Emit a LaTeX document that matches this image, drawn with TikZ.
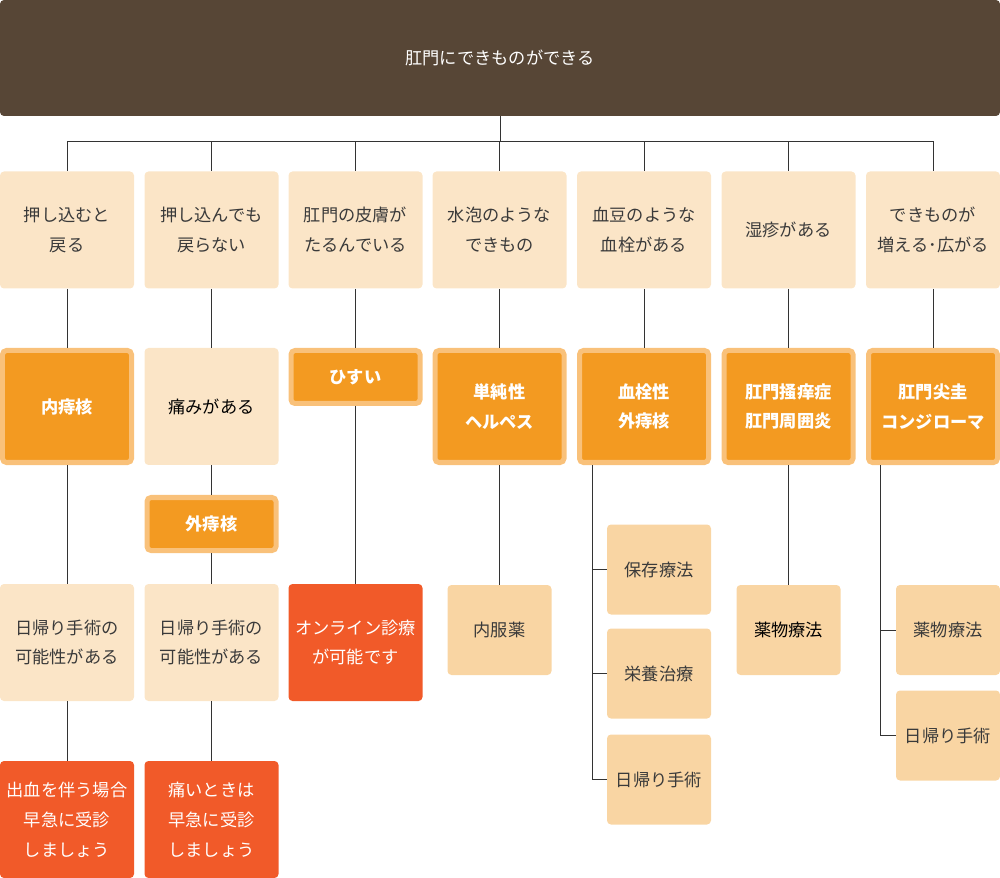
\documentclass[tikz,border=0pt]{standalone}
\usepackage{fontspec}
\setmainfont{Noto Sans CJK JP}
\usetikzlibrary{positioning}
\definecolor{topbrown}{HTML}{574636}
\definecolor{condfill}{HTML}{FBE5C7}
\definecolor{diagfill}{HTML}{F39A21}
\definecolor{diagedge}{HTML}{F9C17A}
\definecolor{alertfill}{HTML}{F15A29}
\definecolor{curefill}{HTML}{F9D5A3}
\definecolor{textgray}{HTML}{3A3A3A}
\definecolor{linegray}{HTML}{333333}

\begin{document}
\begin{tikzpicture}[
    node/.style={%
      rectangle,
      rounded corners=0.08cm,
      align=center,
      inner sep=0pt,
      font=\fontsize{9.8pt}{17pt}\selectfont,
    },
    cond/.style={node, fill=condfill, text=textgray,
      minimum width=2.68cm, minimum height=2.34cm},
    diag/.style={node, fill=diagfill, draw=diagedge, line width=0.1cm,
      text=white, font=\bfseries\fontsize{9.8pt}{17pt}\selectfont,
      minimum width=2.58cm, minimum height=2.24cm},
    alert/.style={node, fill=alertfill, text=white,
      minimum width=2.68cm, minimum height=2.34cm},
    cure/.style={node, fill=curefill, text=textgray,
      minimum width=2.08cm, minimum height=1.8cm},
    link/.style={draw=linegray, line width=0.02cm},
  ]
    \useasboundingbox (0,0) rectangle (20,-17.56);

    \node [node, fill=topbrown, text=white, minimum width=20cm, minimum height=2.32cm] (T) at (10,-1.16) {肛門にできものができる};
    \coordinate (bus) at (10,-2.84);

    \node [cond] (A1) at (1.34,-4.60) {押し込むと\\戻る};
    \node [cond] (B1) at (4.23,-4.60) {押し込んでも\\戻らない};
    \node [cond] (C1) at (7.11,-4.60) {肛門の皮膚が\\たるんでいる};
    \node [cond] (D1) at (9.99,-4.60) {水泡のような\\できもの};
    \node [cond] (E1) at (12.88,-4.60) {血豆のような\\血栓がある};
    \node [cond] (F1) at (15.77,-4.60) {湿疹がある};
    \node [cond] (G1) at (18.66,-4.60) {できものが\\増える･広がる};

    \node [diag] (A2) at (1.34,-8.13) {内痔核};
    \node [cond, text=black] (B2) at (4.23,-8.13) {痛みがある};
    \node [diag, minimum height=1.06cm] (C2) at (7.11,-7.54) {ひすい};
    \node [diag] (D2) at (9.99,-8.13) {単純性\\ヘルペス};
    \node [diag] (E2) at (12.88,-8.13) {血栓性\\外痔核};
    \node [diag] (F2) at (15.77,-8.13) {肛門掻痒症\\肛門周囲炎};
    \node [diag] (G2) at (18.66,-8.13) {肛門尖圭\\コンジローマ};
    \node [diag, minimum height=1.06cm] (B2x) at (4.23,-10.48) {外痔核};

    \node [cond] (A3) at (1.34,-12.85) {日帰り手術の\\可能性がある};
    \node [cond] (B3) at (4.23,-12.85) {日帰り手術の\\可能性がある};
    \node [alert] (C3) at (7.11,-12.85) {オンライン診療\\が可能です};
    \node [cure] (D3) at (9.99,-12.60) {内服薬};
    \node [cure] (E3a) at (13.18,-11.39) {保存療法};
    \node [cure] (E3b) at (13.18,-13.47) {栄養治療};
    \node [cure] (E3c) at (13.18,-15.59) {日帰り手術};
    \node [cure, text=black] (F3) at (15.77,-12.60) {薬物療法};
    \node [cure] (G3a) at (18.96,-12.60) {薬物療法};
    \node [cure] (G3b) at (18.96,-14.71) {日帰り手術};

    \node [alert] (A4) at (1.34,-16.39) {出血を伴う場合\\早急に受診\\しましょう};
    \node [alert] (B4) at (4.23,-16.39) {痛いときは\\早急に受診\\しましょう};

    % tree from the title
    \draw [link] (T) -- (bus);
    \draw [link] (bus) -| (A1);
    \draw [link] (bus) -| (B1);
    \draw [link] (bus) -| (C1);
    \draw [link] (bus) -| (D1);
    \draw [link] (bus) -| (E1);
    \draw [link] (bus) -| (F1);
    \draw [link] (bus) -| (G1);

    % columns
    \draw [link] (A1) -- (A2);
    \draw [link] (A2) -- (A3);
    \draw [link] (A3) -- (A4);
    \draw [link] (B1) -- (B2);
    \draw [link] (B2) -- (B2x);
    \draw [link] (B2x) -- (B3);
    \draw [link] (B3) -- (B4);
    \draw [link] (C1) -- (C2);
    \draw [link] (C2) -- (C3);
    \draw [link] (D1) -- (D2);
    \draw [link] (D2) -- (D3);
    \draw [link] (E1) -- (E2);
    \draw [link] (F1) -- (F2);
    \draw [link] (F2) -- (F3);
    \draw [link] (G1) -- (G2);

    % side branches
    \coordinate (Etrunk) at ([xshift=0.3cm]E2.south west);
    \draw [link] (Etrunk) |- (E3c);
    \draw [link] (Etrunk |- E3a) -- (E3a);
    \draw [link] (Etrunk |- E3b) -- (E3b);
    \coordinate (Gtrunk) at ([xshift=0.28cm]G2.south west);
    \draw [link] (Gtrunk) |- (G3b);
    \draw [link] (Gtrunk |- G3a) -- (G3a);
\end{tikzpicture}
\end{document}
